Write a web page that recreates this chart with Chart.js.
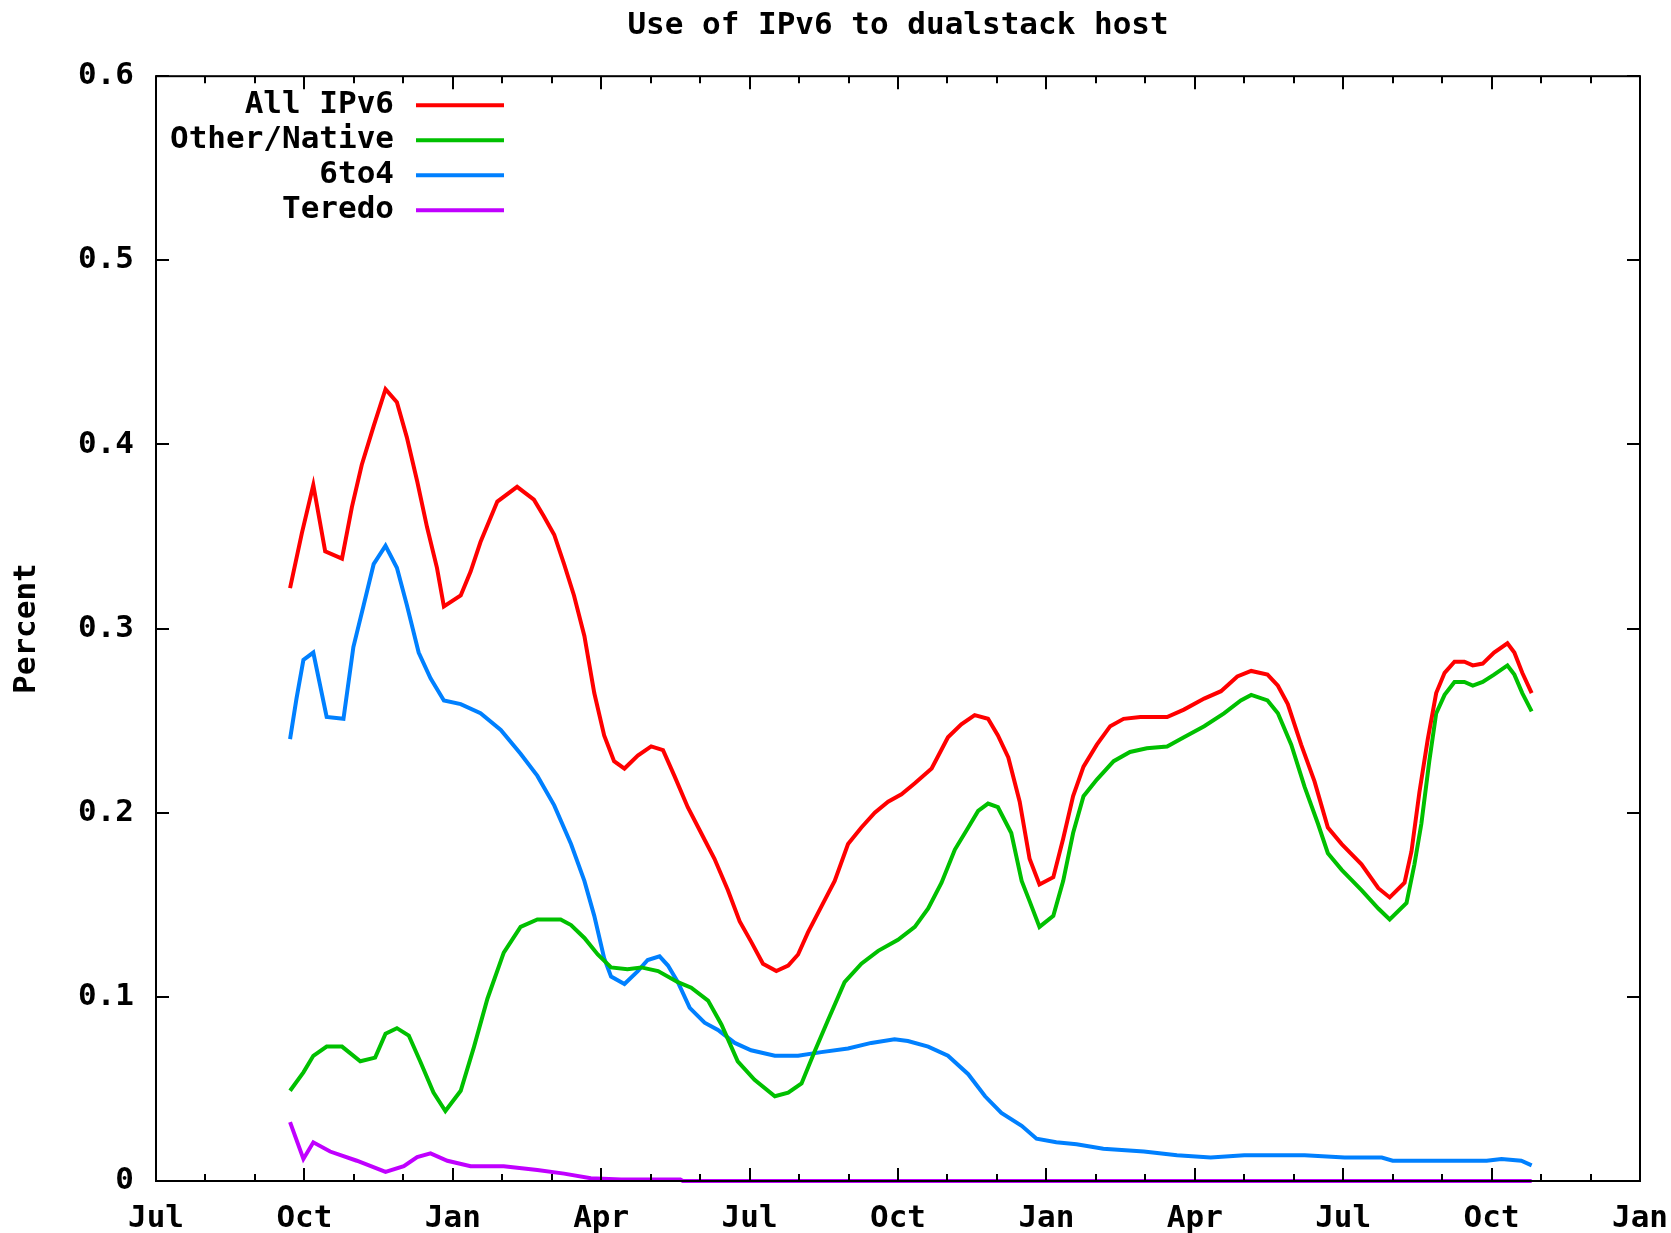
<!DOCTYPE html>
<html>
<head>
<meta charset="utf-8">
<title>Use of IPv6 to dualstack host</title>
<script src="https://cdn.jsdelivr.net/npm/chart.js@4.4.0/dist/chart.umd.min.js"></script>
<style>
  html, body { margin: 0; padding: 0; background: #fff; }
  #wrap { width: 1671px; height: 1233px; position: relative; }
</style>
</head>
<body>
<div id="wrap"><canvas id="chart"></canvas></div>
<script>
/* globals Chart */
// x values are months counted from the first "Jul" on the axis
const xTickLabels = ['Jul', 'Oct', 'Jan', 'Apr', 'Jul', 'Oct', 'Jan', 'Apr', 'Jul', 'Oct', 'Jan'];

const allMonths = [2.71, 2.95, 3.18, 3.42, 3.76, 3.96, 4.16, 4.40, 4.64, 4.87, 5.07, 5.28, 5.48, 5.68, 5.82,
  6.16, 6.36, 6.56, 6.90, 7.30, 7.64, 7.84, 8.05, 8.25, 8.45, 8.66, 8.86, 9.06, 9.26, 9.47, 9.74,
  10.01, 10.25, 10.48, 10.75, 11.02, 11.29, 11.56, 11.80, 12.03, 12.27, 12.54, 12.78, 12.98, 13.18,
  13.45, 13.72, 13.99, 14.26, 14.53, 14.80, 15.07, 15.34, 15.68, 16.01, 16.28, 16.55, 16.82, 17.02,
  17.23, 17.46, 17.66, 17.86, 18.14, 18.34, 18.54, 18.75, 19.02, 19.29, 19.56, 19.90, 20.44, 20.78,
  21.19, 21.53, 21.86, 22.14, 22.47, 22.68, 22.88, 23.15, 23.42, 23.69, 23.97, 24.37, 24.71, 24.94,
  25.24, 25.38, 25.54, 25.71, 25.88, 26.05, 26.25, 26.45, 26.62, 26.82, 27.05, 27.32, 27.46, 27.62, 27.81];
const allValues = [0.322, 0.352, 0.378, 0.342, 0.338, 0.366, 0.389, 0.410, 0.430, 0.423, 0.404, 0.380, 0.355, 0.333, 0.312,
  0.318, 0.331, 0.347, 0.369, 0.377, 0.370, 0.361, 0.351, 0.335, 0.318, 0.296, 0.265, 0.242, 0.228, 0.224, 0.231,
  0.236, 0.234, 0.220, 0.203, 0.189, 0.175, 0.158, 0.141, 0.130, 0.118, 0.114, 0.117, 0.123, 0.135,
  0.149, 0.163, 0.183, 0.192, 0.200, 0.206, 0.210, 0.216, 0.224, 0.241, 0.248, 0.253, 0.251, 0.242,
  0.230, 0.206, 0.175, 0.161, 0.165, 0.186, 0.209, 0.225, 0.237, 0.247, 0.251, 0.252, 0.252, 0.256,
  0.262, 0.266, 0.274, 0.277, 0.275, 0.269, 0.259, 0.237, 0.217, 0.192, 0.183, 0.172, 0.159, 0.154,
  0.162, 0.179, 0.211, 0.240, 0.265, 0.276, 0.282, 0.282, 0.280, 0.281, 0.287, 0.292, 0.287, 0.276, 0.265];

const nativeMonths = [2.71, 2.98, 3.18, 3.45, 3.76, 4.13, 4.43, 4.64, 4.87, 5.11, 5.34, 5.61, 5.85, 6.16, 6.43,
  6.70, 7.03, 7.37, 7.71, 8.18, 8.39, 8.66, 8.93, 9.20, 9.53, 9.81, 10.15, 10.55, 10.82, 11.16, 11.43,
  11.76, 12.10, 12.51, 12.78, 13.05, 13.31, 13.58, 13.92, 14.26, 14.60, 15.00, 15.34, 15.61, 15.88,
  16.15, 16.42, 16.62, 16.82, 17.02, 17.29, 17.50, 17.66, 17.86, 18.14, 18.34, 18.54, 18.75, 19.02,
  19.36, 19.69, 20.03, 20.44, 20.78, 21.19, 21.59, 21.93, 22.14, 22.47, 22.68, 22.95, 23.22, 23.49,
  23.69, 23.97, 24.37, 24.71, 24.94, 25.28, 25.44, 25.58, 25.74, 25.88, 26.05, 26.25, 26.45, 26.62,
  26.82, 27.05, 27.32, 27.46, 27.62, 27.81];
const nativeValues = [0.049, 0.059, 0.068, 0.073, 0.073, 0.065, 0.067, 0.080, 0.083, 0.079, 0.065, 0.048, 0.038, 0.049, 0.073,
  0.099, 0.124, 0.138, 0.142, 0.142, 0.139, 0.132, 0.123, 0.116, 0.115, 0.116, 0.114, 0.108, 0.105, 0.098, 0.085,
  0.065, 0.055, 0.046, 0.048, 0.053, 0.070, 0.087, 0.108, 0.118, 0.125, 0.131, 0.138, 0.148, 0.162,
  0.180, 0.192, 0.201, 0.205, 0.203, 0.189, 0.163, 0.152, 0.138, 0.144, 0.163, 0.189, 0.209, 0.218,
  0.228, 0.233, 0.235, 0.236, 0.241, 0.247, 0.254, 0.261, 0.264, 0.261, 0.254, 0.237, 0.214, 0.194,
  0.178, 0.169, 0.158, 0.148, 0.142, 0.151, 0.172, 0.194, 0.228, 0.254, 0.264, 0.271, 0.271, 0.269,
  0.271, 0.275, 0.280, 0.275, 0.265, 0.255];

const sixToFourMonths = [2.71, 2.84, 2.98, 3.18, 3.45, 3.79, 3.99, 4.20, 4.40, 4.64, 4.87, 5.07, 5.31, 5.55, 5.82,
  6.16, 6.56, 6.97, 7.37, 7.71, 8.05, 8.39, 8.66, 8.86, 9.06, 9.20, 9.47, 9.74, 9.94, 10.18, 10.35,
  10.55, 10.79, 11.09, 11.36, 11.70, 12.03, 12.51, 12.98, 13.45, 13.99, 14.46, 14.93, 15.20, 15.61,
  16.01, 16.42, 16.76, 17.09, 17.50, 17.80, 18.20, 18.61, 19.15, 19.97, 20.64, 21.32, 22.00, 23.22,
  24.03, 24.78, 25.00, 26.90, 27.20, 27.60, 27.81];
const sixToFourValues = [0.240, 0.262, 0.283, 0.287, 0.252, 0.251, 0.290, 0.313, 0.335, 0.345, 0.333, 0.313, 0.287, 0.273, 0.261,
  0.259, 0.254, 0.245, 0.232, 0.220, 0.204, 0.183, 0.163, 0.144, 0.121, 0.111, 0.107, 0.114, 0.120, 0.122, 0.117,
  0.108, 0.094, 0.086, 0.082, 0.075, 0.071, 0.068, 0.068, 0.070, 0.072, 0.075, 0.077, 0.076, 0.073,
  0.068, 0.058, 0.046, 0.037, 0.030, 0.023, 0.021, 0.020, 0.0175, 0.016, 0.014, 0.0127, 0.014, 0.014,
  0.0127, 0.0127, 0.011, 0.011, 0.012, 0.011, 0.0085];

const teredoMonths = [2.71, 2.98, 3.18, 3.52, 4.06, 4.64, 5.01, 5.28, 5.55, 5.89, 6.36, 7.03, 7.71, 8.25, 8.79,
  9.40, 10.60, 10.65, 27.81];
const teredoValues = [0.032, 0.012, 0.021, 0.016, 0.011, 0.005, 0.008, 0.013, 0.015, 0.011, 0.008, 0.008, 0.006, 0.004, 0.0015,
  0.0008, 0.0008, 0, 0];

const FONT = '"DejaVu Sans Mono", "Liberation Mono", monospace';
const pts = (xs, ys) => xs.map((x, i) => ({ x, y: ys[i] }));

// gnuplot style box with inward ticks on all four sides
const frameTicks = {
  id: 'frameTicks',
  afterDatasetsDraw(chart) {
    const { ctx, chartArea: a, scales } = chart;
    ctx.save();
    ctx.strokeStyle = '#000';
    ctx.lineWidth = 2;
    ctx.beginPath();
    for (const t of scales.x.ticks) {
      const px = Math.round(scales.x.getPixelForValue(t.value));
      const len = t.value % 3 === 0 ? 13 : 7;
      ctx.moveTo(px, a.bottom); ctx.lineTo(px, a.bottom - len);
      ctx.moveTo(px, a.top); ctx.lineTo(px, a.top + len);
    }
    for (const t of scales.y.ticks) {
      const py = Math.round(scales.y.getPixelForValue(t.value));
      ctx.moveTo(a.left, py); ctx.lineTo(a.left + 13, py);
      ctx.moveTo(a.right, py); ctx.lineTo(a.right - 13, py);
    }
    ctx.stroke();
    ctx.strokeRect(a.left, a.top, a.right - a.left, a.bottom - a.top);
    ctx.restore();
  }
};

// legend in the top left corner: label right aligned, then line sample
const keyBox = {
  id: 'keyBox',
  afterDraw(chart) {
    const { ctx, chartArea: a } = chart;
    ctx.save();
    ctx.font = `bold 31px ${FONT}`;
    ctx.textAlign = 'right';
    ctx.textBaseline = 'middle';
    chart.data.datasets.forEach((ds, i) => {
      const y = a.top + 29 + i * 35;
      ctx.fillStyle = '#000';
      ctx.fillText(ds.label, a.left + 238, y);
      ctx.strokeStyle = ds.borderColor;
      ctx.lineWidth = 4;
      ctx.beginPath();
      ctx.moveTo(a.left + 260, y);
      ctx.lineTo(a.left + 348, y);
      ctx.stroke();
    });
    ctx.restore();
  }
};

Chart.defaults.font.family = FONT;
Chart.defaults.font.size = 31;
Chart.defaults.font.weight = 'bold';
Chart.defaults.color = '#000';

new Chart(document.getElementById('chart'), {
  type: 'line',
  data: {
    datasets: [
      { label: 'All IPv6', data: pts(allMonths, allValues), borderColor: '#ff0000' },
      { label: 'Other/Native', data: pts(nativeMonths, nativeValues), borderColor: '#00c000' },
      { label: '6to4', data: pts(sixToFourMonths, sixToFourValues), borderColor: '#0080ff' },
      { label: 'Teredo', data: pts(teredoMonths, teredoValues), borderColor: '#c000ff' }
    ]
  },
  options: {
    responsive: true,
    maintainAspectRatio: false,
    animation: false,
    layout: { padding: { right: 31 } },
    elements: {
      line: { borderWidth: 4, tension: 0, fill: false },
      point: { radius: 0 }
    },
    datasets: { line: { clip: 6 } },
    plugins: {
      legend: { display: false },
      tooltip: { enabled: false },
      title: {
        display: true,
        fullSize: false,
        text: 'Use of IPv6 to dualstack host',
        font: { size: 31, weight: 'bold' },
        color: '#000',
        padding: { top: 7, bottom: 32 }
      }
    },
    scales: {
      x: {
        type: 'linear',
        min: 0,
        max: 30,
        grid: { display: false, drawTicks: false },
        border: { display: false },
        ticks: {
          stepSize: 1,
          autoSkip: false,
          maxRotation: 0,
          padding: 19,
          callback: (v) => (v % 3 === 0 ? xTickLabels[v / 3] : '')
        },
        afterFit: (s) => { s.height = 52; s.paddingLeft = 0; s.paddingRight = 0; }
      },
      y: {
        min: 0,
        max: 0.6,
        grid: { display: false, drawTicks: false },
        border: { display: false },
        ticks: {
          stepSize: 0.1,
          padding: 22,
          callback: (v) => (Math.abs(v) < 1e-9 ? '0' : v.toFixed(1))
        },
        title: { display: true, text: 'Percent', padding: { top: 8, bottom: 0 } },
        afterFit: (s) => { s.width = 156; }
      }
    }
  },
  plugins: [frameTicks, keyBox]
});
</script>
</body>
</html>
